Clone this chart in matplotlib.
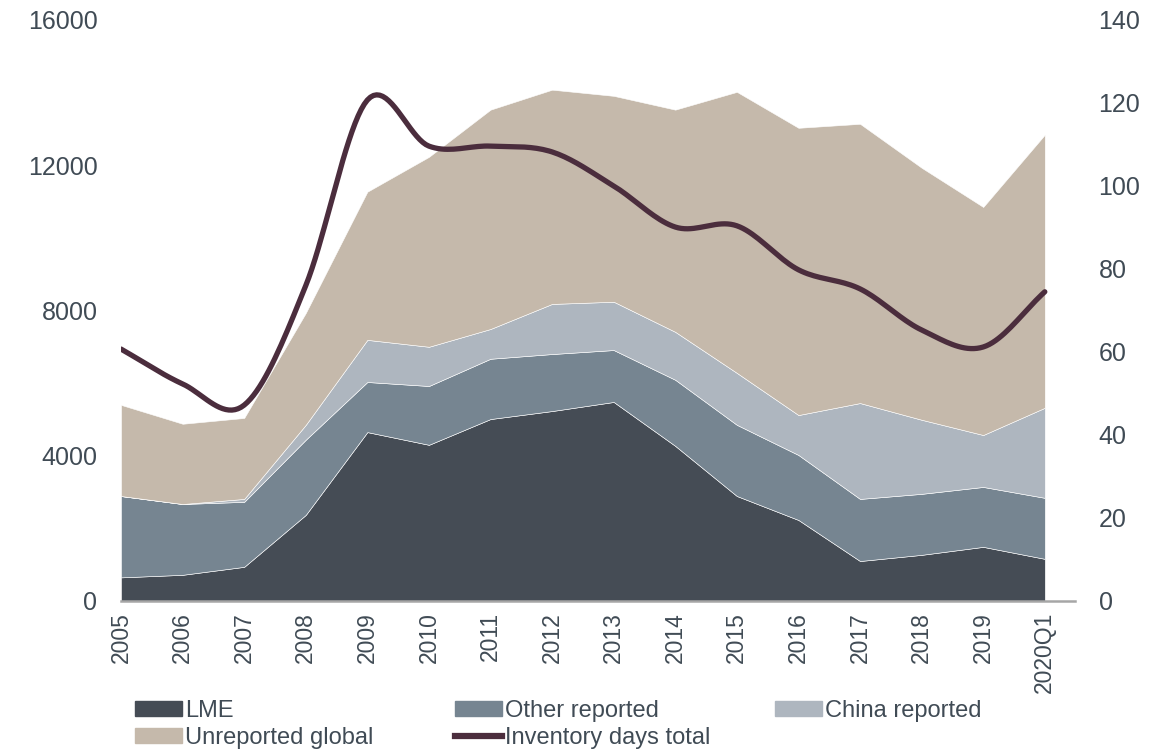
import numpy as np
import matplotlib
matplotlib.use('Agg')
import matplotlib.pyplot as plt
from matplotlib.patches import Patch
from matplotlib.lines import Line2D

plt.rcParams['font.family'] = ['Liberation Sans', 'DejaVu Sans']

# 데이터
years = ['2005', '2006', '2007', '2008', '2009', '2010', '2011', '2012',
         '2013', '2014', '2015', '2016', '2017', '2018', '2019', '2020Q1']
lme = [650, 720, 940, 2370, 4650, 4300, 5010, 5230,
       5480, 4270, 2890, 2230, 1100, 1270, 1490, 1160]
other_reported = [2240, 1950, 1790, 2070, 1380, 1620, 1660, 1570,
                  1430, 1820, 1960, 1790, 1710, 1680, 1650, 1680]
china_reported = [0, 0, 80, 410, 1160, 1080, 820, 1380,
                  1330, 1320, 1430, 1100, 2640, 2040, 1430, 2480]
unreported_global = [2510, 2210, 2230, 3080, 4080, 5230, 6040, 5900,
                     5670, 6120, 7740, 7910, 7690, 6940, 6280, 7520]
inventory_days = [60.7, 52.3, 47.2, 76.0, 120.7, 109.6, 109.6, 108.2,
                  100.0, 90.1, 90.4, 79.8, 75.2, 65.3, 61.2, 74.5]

colors = ['#454c55', '#768591', '#aeb6bf', '#c5b9ab']
line_color = '#4b2d3d'
text_color = '#404b55'


def smooth(x, y, n=20):
    # Catmull-Rom 곡선으로 선을 부드럽게 그립니다 (엑셀의 smoothed line 흉내)
    x = np.asarray(x, float)
    y = np.asarray(y, float)
    px = np.concatenate([[2 * x[0] - x[1]], x, [2 * x[-1] - x[-2]]])
    py = np.concatenate([[2 * y[0] - y[1]], y, [2 * y[-1] - y[-2]]])
    xs, ys = [], []
    t = np.linspace(0, 1, n, endpoint=False)
    for i in range(1, len(px) - 2):
        for p, out in ((px, xs), (py, ys)):
            p0, p1, p2, p3 = p[i - 1], p[i], p[i + 1], p[i + 2]
            out.extend(0.5 * (2 * p1 + (-p0 + p2) * t
                              + (2 * p0 - 5 * p1 + 4 * p2 - p3) * t ** 2
                              + (-p0 + 3 * p1 - 3 * p2 + p3) * t ** 3))
    xs.append(x[-1])
    ys.append(y[-1])
    return np.array(xs), np.array(ys)


fig = plt.figure(figsize=(11.76, 7.5), dpi=100)
ax = fig.add_axes([0.1029, 0.1987, 0.8112, 0.7747])

x = np.arange(len(years))
ax.stackplot(x, lme, other_reported, china_reported, unreported_global,
             colors=colors, edgecolor='white', linewidth=0.4)
ax.set_xlim(0, 15.49)
ax.set_ylim(0, 16000)
ax.set_yticks([0, 4000, 8000, 12000, 16000])
ax.set_xticks(x)
ax.set_xticklabels(years, rotation=90)

for s in ['top', 'right', 'left']:
    ax.spines[s].set_visible(False)
ax.spines['bottom'].set_color('#a6a6a6')
ax.spines['bottom'].set_linewidth(1.8)
ax.tick_params(axis='y', length=0, pad=17, labelsize=18, labelcolor=text_color)
ax.tick_params(axis='x', length=0, pad=8, labelsize=16.5, labelcolor=text_color)

ax2 = ax.twinx()
sx, sy = smooth(x, inventory_days)
ax2.plot(sx, sy, color=line_color, linewidth=3.8, solid_capstyle='round')
ax2.set_ylim(0, 140)
ax2.set_yticks(range(0, 141, 20))
for s in ax2.spines.values():
    s.set_visible(False)
ax2.tick_params(axis='y', length=0, pad=17, labelsize=18, labelcolor=text_color)

# 범례
entries = [
    (Patch(color=colors[0]), 'LME', 0.115, 0.052),
    (Patch(color=colors[1]), 'Other reported', 0.387, 0.052),
    (Patch(color=colors[2]), 'China reported', 0.659, 0.052),
    (Patch(color=colors[3]), 'Unreported global', 0.115, 0.016),
    (Line2D([], [], color=line_color, linewidth=4.5), 'Inventory days total', 0.387, 0.016),
]
for h, lab, lx, ly in entries:
    leg = fig.legend([h], [lab], loc='center left', bbox_to_anchor=(lx, ly),
                     frameon=False, fontsize=17, handlelength=2.0,
                     handleheight=0.6, handletextpad=0.1, borderpad=0,
                     borderaxespad=0)
    for t in leg.get_texts():
        t.set_color(text_color)

fig.savefig('out.png', dpi=100)
